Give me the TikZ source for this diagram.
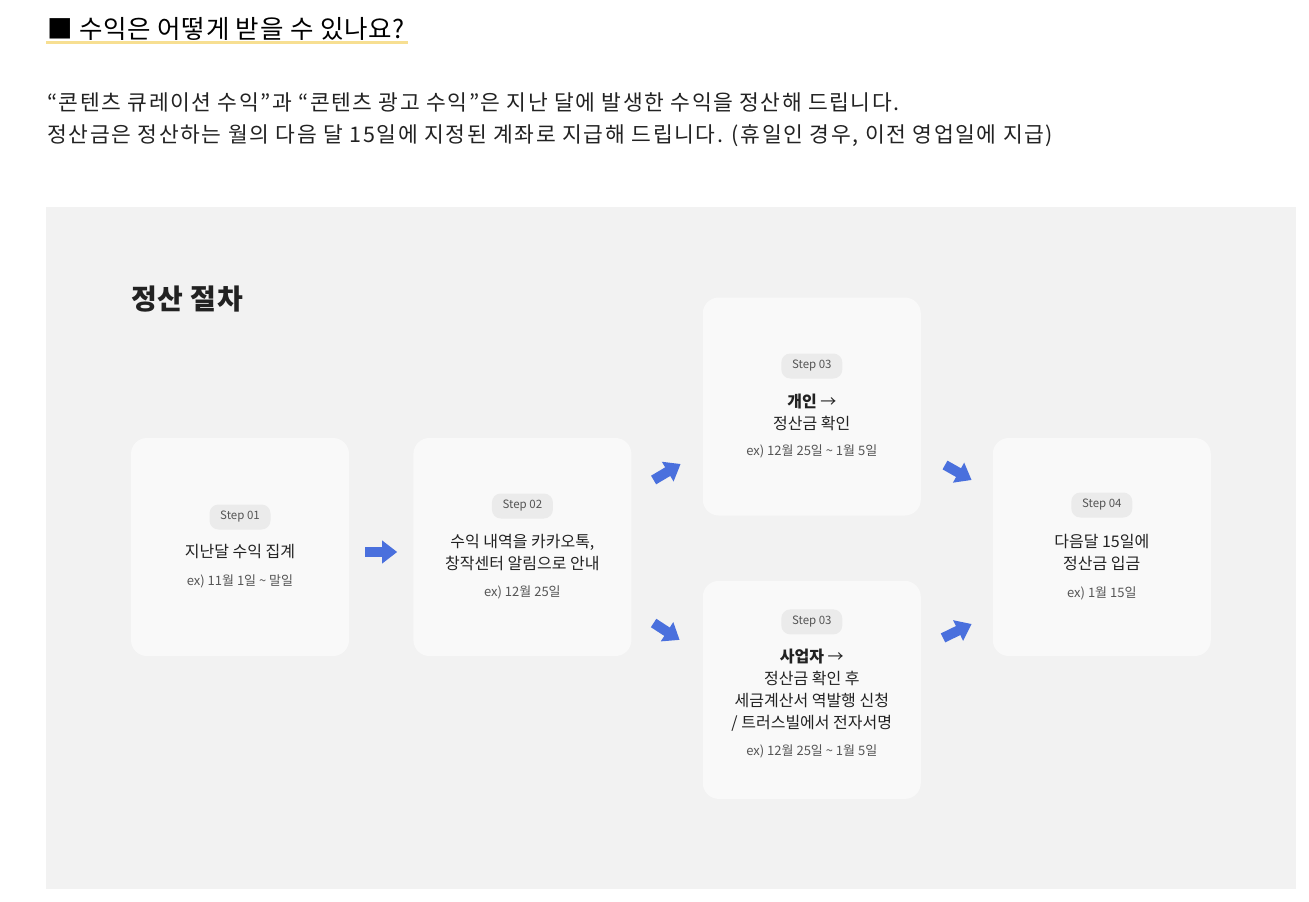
\documentclass[tikz,border=0pt]{standalone}
\usepackage{fontspec}
\setmainfont{Noto Sans CJK KR}
\usetikzlibrary{positioning,calc,arrows.meta}
\definecolor{panelgray}{HTML}{F2F2F2}
\definecolor{cardwhite}{HTML}{F9F9F9}
\definecolor{taggray}{HTML}{EBEBEB}
\definecolor{tagtext}{HTML}{555555}
\definecolor{titletext}{HTML}{222222}
\definecolor{extext}{HTML}{555555}
\definecolor{arrowblue}{HTML}{4A70DD}
\definecolor{hlyellow}{HTML}{F7DF92}
\begin{document}
\begin{tikzpicture}[x=1pt, y=-1pt,
        card/.style={fill=cardwhite, rounded corners=16pt, minimum width=218pt, minimum height=218pt, inner sep=0pt},
        steptag/.style={fill=taggray, rounded corners=9pt, minimum width=61pt, minimum height=25pt, inner sep=0pt, font=\fontsize{11.5}{13}\selectfont, text=tagtext},
        cardtitle/.style={align=center, inner sep=0pt, font=\fontsize{16}{22}\selectfont, text=titletext},
        cardex/.style={inner sep=0pt, font=\fontsize{13}{15}\selectfont, text=extext},
        blockarrow/.style={line width=10pt, draw=arrowblue, -{Triangle[width=22pt,length=15pt]}}
    ]
    \useasboundingbox (0,0) rectangle (1309,902);
    \fill[white] (0,0) rectangle (1309,902);

    % heading and intro text
    \fill[hlyellow] (46,40.5) rectangle (408,44);
    \node (head) [anchor=base west, inner sep=0pt, font=\fontsize{25.5}{28}\selectfont\addfontfeatures{LetterSpace=3}] at (47,38) {■ 수익은 어떻게 받을 수 있나요?};
    \node (intro1) [anchor=base west, inner sep=0pt, font=\fontsize{21.5}{26}\selectfont\addfontfeatures{LetterSpace=7.2}, text=titletext] at (47,110) {“콘텐츠 큐레이션 수익"과 “콘텐츠 광고 수익"은 지난 달에 발생한 수익을 정산해 드립니다.};
    \node (intro2) [anchor=base west, inner sep=0pt, font=\fontsize{21.5}{26}\selectfont\addfontfeatures{LetterSpace=7.6}, text=titletext] at (47,142) {정산금은 정산하는 월의 다음 달 15일에 지정된 계좌로 지급해 드립니다. (휴일인 경우, 이전 영업일에 지급)};

    % panel
    \fill[panelgray] (46,207) rectangle (1296,889);
    \node (title) [anchor=base west, inner sep=0pt, font=\fontsize{28}{32}\selectfont\bfseries\addfontfeatures{LetterSpace=3}, text=titletext] at (131,309) {정산 절차};

    % cards
    \node (s1) [card] at (240,547) {};
    \node (s2) [card, right=64pt of s1] {};
    \node (s3a) [card, right=71pt of s2, yshift=140.5pt] {};
    \node (s3b) [card, below=65pt of s3a] {};
    \node (s4) [card, right=361pt of s2] {};

    \node (t1) [steptag] at ($(s1.center)+(0,-30)$) {Step 01};
    \node (m1) [cardtitle] at ($(s1.center)+(0,5)$) {지난달 수익 집계};
    \node (e1) [cardex] at ($(s1.center)+(0,34)$) {ex) 11월 1일 \char`~{} 말일};

    \node (t2) [steptag] at ($(s2.center)+(0,-41)$) {Step 02};
    \node (m2) [cardtitle] at ($(s2.center)+(0,5.5)$) {수익 내역을 카카오톡,\\창작센터 알림으로 안내};
    \node (e2) [cardex] at ($(s2.center)+(0,45)$) {ex) 12월 25일};

    \node (t3a) [steptag] at ($(s3a.center)+(0,-40.5)$) {Step 03};
    \node (m3a) [cardtitle] at ($(s3a.center)+(0,5.5)$) {\textbf{개인} →\\정산금 확인};
    \node (e3a) [cardex] at ($(s3a.center)+(0,44.5)$) {ex) 12월 25일 \char`~{} 1월 5일};

    \node (t3b) [steptag] at ($(s3b.center)+(0,-68)$) {Step 03};
    \node (m3b) [cardtitle] at ($(s3b.center)+(0,0.5)$) {\textbf{사업자} →\\정산금 확인 후\\세금계산서 역발행 신청\\/ 트러스빌에서 전자서명};
    \node (e3b) [cardex] at ($(s3b.center)+(0,61)$) {ex) 12월 25일 \char`~{} 1월 5일};

    \node (t4) [steptag] at ($(s4.center)+(0,-42)$) {Step 04};
    \node (m4) [cardtitle] at ($(s4.center)+(0,5.5)$) {다음달 15일에\\정산금 입금};
    \node (e4) [cardex] at ($(s4.center)+(0,46)$) {ex) 1월 15일};

    % arrows
    \draw [blockarrow] ($(s1.east)+(16,5)$) -- ($(s2.west)+(-16,5)$);
    \draw [blockarrow] ($(s2.east)+(22,-67)$) -- ($(s3a.west)+(-22,57.5)$);
    \draw [blockarrow] ($(s2.east)+(22,76)$) -- ($(s3b.west)+(-23,-50)$);
    \draw [blockarrow] ($(s3a.east)+(24,58.5)$) -- ($(s4.west)+(-21,-67)$);
    \draw [blockarrow] ($(s3b.east)+(22,-52)$) -- ($(s4.west)+(-21,77)$);
\end{tikzpicture}
\end{document}
